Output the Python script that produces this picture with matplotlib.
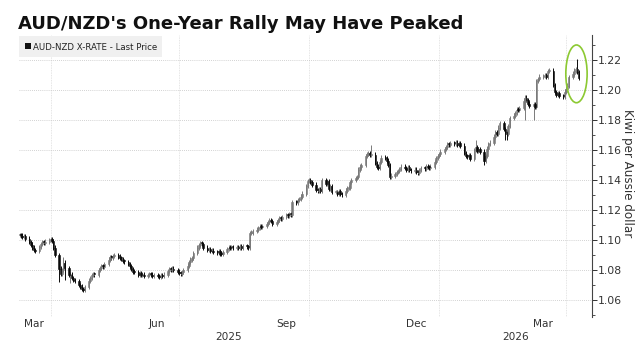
import numpy as np
import pandas as pd
import matplotlib
matplotlib.use("Agg")
import matplotlib.pyplot as plt
import matplotlib.dates as mdates
from matplotlib.patches import Rectangle, Ellipse

# AUD/NZD daily closes, one row per week (Mon..Fri), starting 10 Mar 2025
start_day = "2025-03-10"
weekly_closes = [
    [1.1035, 1.1030, 1.1020, 1.1025, 1.1010],
    [1.0985, 1.0970, 1.0950, 1.0935, 1.0925],
    [1.0955, 1.0975, 1.0985, 1.0980, 1.0990],
    [1.1000, 1.1005, 1.0995, 1.0950, 1.0900],
    [1.0810, 1.0775, 1.0800, 1.0850, 1.0815],
    [1.0765, 1.0770, 1.0745, 1.0735, 1.0725],
    [1.0700, 1.0690, 1.0675, 1.0668, 1.0685],
    [1.0730, 1.0745, 1.0765, 1.0775, 1.0770],
    [1.0800, 1.0815, 1.0825, 1.0820, 1.0840],
    [1.0870, 1.0885, 1.0880, 1.0895, 1.0900],
    [1.0890, 1.0880, 1.0875, 1.0860, 1.0855],
    [1.0840, 1.0825, 1.0805, 1.0790, 1.0785],
    [1.0770, 1.0780, 1.0765, 1.0770, 1.0760],
    [1.0765, 1.0775, 1.0770, 1.0760, 1.0768],
    [1.0760, 1.0752, 1.0765, 1.0758, 1.0770],
    [1.0795, 1.0805, 1.0800, 1.0810, 1.0798],
    [1.0790, 1.0780, 1.0775, 1.0785, 1.0800],
    [1.0830, 1.0855, 1.0870, 1.0880, 1.0915],
    [1.0950, 1.0965, 1.0980, 1.0975, 1.0950],
    [1.0935, 1.0940, 1.0925, 1.0930, 1.0920],
    [1.0915, 1.0925, 1.0910, 1.0905, 1.0920],
    [1.0940, 1.0950, 1.0945, 1.0955, 1.0950],
    [1.0955, 1.0945, 1.0960, 1.0950, 1.0958],
    [1.0955, 1.0950, 1.1045, 1.1050, 1.1060],
    [1.1070, 1.1080, 1.1090, 1.1085, 1.1095],
    [1.1105, 1.1120, 1.1130, 1.1125, 1.1110],
    [1.1120, 1.1135, 1.1145, 1.1140, 1.1155],
    [1.1165, 1.1160, 1.1175, 1.1170, 1.1255],
    [1.1250, 1.1265, 1.1275, 1.1290, 1.1310],
    [1.1360, 1.1395, 1.1400, 1.1385, 1.1370],
    [1.1335, 1.1330, 1.1340, 1.1325, 1.1400],
    [1.1375, 1.1395, 1.1340, 1.1360, 1.1320],
    [1.1320, 1.1310, 1.1325, 1.1305, 1.1300],
    [1.1330, 1.1345, 1.1350, 1.1385, 1.1400],
    [1.1415, 1.1420, 1.1470, 1.1490, 1.1500],
    [1.1560, 1.1575, 1.1580, 1.1570, 1.1570],
    [1.1515, 1.1490, 1.1480, 1.1520, 1.1550],
    [1.1545, 1.1530, 1.1500, 1.1420, 1.1430],
    [1.1440, 1.1455, 1.1460, 1.1475, 1.1490],
    [1.1480, 1.1470, 1.1485, 1.1465, 1.1460],
    [1.1470, 1.1455, 1.1450, 1.1465, 1.1480],
    [1.1475, 1.1490, 1.1485, 1.1480, 1.1490],
    [1.1520, 1.1545, 1.1560, 1.1575, 1.1590],
    [1.1605, 1.1620, 1.1640, 1.1635, 1.1645],
    [1.1640, 1.1650, 1.1635, 1.1645, 1.1630],
    [1.1580, 1.1560, 1.1555, 1.1565, 1.1540],
    [1.1600, 1.1620, 1.1595, 1.1605, 1.1590],
    [1.1525, 1.1560, 1.1610, 1.1640, 1.1650],
    [1.1690, 1.1720, 1.1710, 1.1750, 1.1780],
    [1.1740, 1.1720, 1.1705, 1.1760, 1.1815],
    [1.1830, 1.1845, 1.1870, 1.1865, 1.1880],
    [1.1930, 1.1950, 1.1935, 1.1910, 1.1895],
    [1.1905, 1.1885, 1.2060, 1.2075, 1.2090],
    [1.2095, 1.2100, 1.2085, 1.2125, 1.2130],
    [1.2035, 1.1985, 1.1970, 1.1980, 1.1960],
    [1.1955, 1.1990, 1.2010, 1.2030, 1.2085],
    [1.2110, 1.2130, 1.2140, 1.2120, 1.2080],
]

# days with long wicks (index into the daily series)
spike_highs = {23: 1.0890, 179: 1.1635, 231: 1.1665, 283: 1.2210}
spike_lows = {20: 1.0720, 24: 1.0735, 26: 1.0712, 235: 1.1500,
              246: 1.1670, 247: 1.1670, 256: 1.1800, 260: 1.1800}

yticks = [1.06, 1.08, 1.10, 1.12, 1.14, 1.16, 1.18, 1.20, 1.22]
grid_dates = ["2025-04-01", "2025-07-01", "2025-10-01", "2026-01-01", "2026-04-01"]
month_labels = ["Mar", "Jun", "Sep", "Dec", "Mar"]
month_label_dates = ["2025-03-20", "2025-06-15", "2025-09-15", "2025-12-16", "2026-03-16"]
year_labels = ["2025", "2026"]
year_label_dates = ["2025-08-05", "2026-02-24"]

closes = np.array(sum(weekly_closes, []))
dates = pd.bdate_range(start_day, periods=len(closes))
x = mdates.date2num(dates)
opens = np.r_[closes[0], closes[:-1]]
wick = 0.0014
highs = np.maximum(opens, closes) + wick
lows = np.minimum(opens, closes) - wick
for i, v in spike_highs.items():
    highs[i] = v
for i, v in spike_lows.items():
    lows[i] = v

fig = plt.figure(figsize=(6.37, 3.43), dpi=100)
ax = fig.add_axes([19/637, 1 - 317/343, 573/637, 282/343])

up = closes >= opens
body = np.where(np.abs(closes - opens) < 0.0006, 0.0006, closes - opens)
for mask, col in [(up, "#7a7a7a"), (~up, "#0a0a0a")]:
    ax.vlines(x[mask], lows[mask], highs[mask], color=col, lw=0.7, zorder=3)
    ax.bar(x[mask], body[mask], bottom=opens[mask], width=0.95, color=col,
           edgecolor=col, linewidth=0.4, zorder=4)

ax.add_patch(Ellipse((mdates.date2num(pd.Timestamp("2026-04-08 10:00")), 1.2108),
                     15.1, 0.0385, fill=False, edgecolor="#8cc932", lw=1.2, zorder=5))

ax.set_xlim(mdates.date2num(pd.Timestamp("2025-03-09 14:00")),
            mdates.date2num(pd.Timestamp("2026-04-19 10:00")))
ax.set_ylim(1.0487, 1.2367)

ax.yaxis.tick_right()
ax.set_yticks(yticks)
ax.set_yticklabels([f"{v:.2f}" for v in yticks])
ax.set_yticks(np.arange(1.05, 1.235, 0.01), minor=True)
ax.tick_params(axis="y", which="major", length=3.5, width=0.7, pad=1,
               labelsize=7.8, colors="#333333")
ax.tick_params(axis="y", which="minor", length=2, width=0.6, colors="#333333")
ax.grid(axis="y", which="major", color="#c4c4c4", lw=0.6, linestyle=(0, (1, 1.5)))

ax.set_xticks(mdates.date2num(pd.to_datetime(grid_dates)))
ax.set_xticklabels([])
ax.tick_params(axis="x", length=0)
ax.grid(axis="x", color="#dcdcdc", lw=0.6, linestyle=(0, (1, 1)))
ax.set_axisbelow(True)

for s in ["top", "left", "bottom"]:
    ax.spines[s].set_visible(False)
ax.spines["right"].set_color("#444444")
ax.spines["right"].set_linewidth(0.8)

tr = ax.get_xaxis_transform()
for lab, d in zip(month_labels, month_label_dates):
    ax.text(mdates.date2num(pd.Timestamp(d)), -0.025, lab, transform=tr,
            ha="center", va="center", fontsize=7.6, color="#333333")
for lab, d in zip(year_labels, year_label_dates):
    ax.text(mdates.date2num(pd.Timestamp(d)), -0.071, lab, transform=tr,
            ha="center", va="center", fontsize=7.6, color="#333333")

fig.text(627.5/637, 1 - 173.5/343, "Kiwi per Aussie dollar", rotation=270,
         ha="center", va="center", fontsize=8.6, color="#333333")

fig.text(18/637, 1 - 29/343, "AUD/NZD's One-Year Rally May Have Peaked",
         ha="left", va="baseline", fontsize=12.95, fontweight="bold", color="#111111")

# legend box
fig.add_artist(Rectangle((19/637, 1 - 57/343), 143/637, 21/343,
                         transform=fig.transFigure, facecolor="#f0f0f0",
                         edgecolor="none", zorder=6))
fig.add_artist(Rectangle((25/637, 1 - 49/343), 6/637, 6/343,
                         transform=fig.transFigure, facecolor="#111111",
                         edgecolor="none", zorder=7))
fig.text(33/637, 1 - 49.5/343, "AUD-NZD X-RATE - Last Price", ha="left",
         va="baseline", fontsize=6.2, color="#222222", zorder=7)

fig.savefig("out.png", dpi=100)
